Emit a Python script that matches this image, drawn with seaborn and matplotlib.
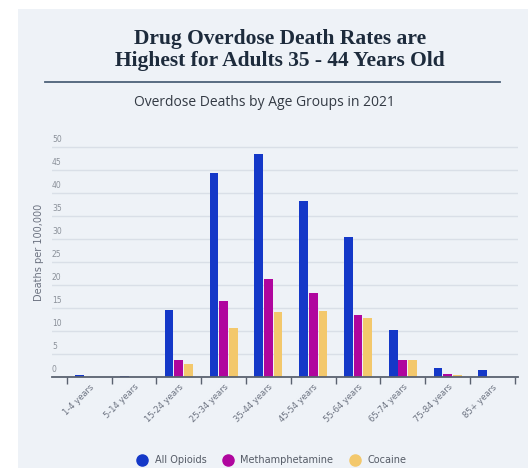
import pandas as pd
import seaborn as sns
import matplotlib.pyplot as plt
import matplotlib.transforms as mtrans
from matplotlib.lines import Line2D
from matplotlib.patches import Rectangle
from matplotlib.ticker import FixedLocator

# Overdose deaths per 100,000 by age group, 2021
ages = ["1-4 years", "5-14 years", "15-24 years", "25-34 years", "35-44 years",
        "45-54 years", "55-64 years", "65-74 years", "75-84 years", "85+ years"]
opioids = [0.5, 0.3, 14.6, 44.4, 48.5, 38.3, 30.5, 10.2, 2.0, 1.5]
meth = [0.0, 0.0, 3.7, 16.6, 21.4, 18.2, 13.4, 3.8, 0.7, 0.0]
cocaine = [0.0, 0.0, 2.8, 10.6, 14.2, 14.3, 12.8, 3.8, 0.5, 0.0]
drugs = ["All Opioids", "Methamphetamine", "Cocaine"]
colors = ["#1438c8", "#b0069e", "#f3c86c"]
yticks = [0, 5, 10, 15, 20, 25, 30, 35, 40, 45, 50]

df = pd.DataFrame({"age": ages * 3,
                   "rate": opioids + meth + cocaine,
                   "drug": [d for d in drugs for _ in ages]})

panel = "#eef2f7"
fig = plt.figure(figsize=(5.28, 4.68), dpi=100)
fig.patch.set_facecolor("white")
fig.patches.append(Rectangle((18 / 528, 0), 1 - 18 / 528, 1 - 9 / 468,
                             transform=fig.transFigure, facecolor=panel,
                             edgecolor="none", zorder=-10))

ax = fig.add_axes([52 / 528, 0.1944, 466 / 528, 0.5013])
ax.set_facecolor(panel)

sns.barplot(data=df, x="age", y="rate", hue="drug", palette=colors,
            saturation=1, width=0.65, gap=0.1, ax=ax, legend=False, zorder=3)

ax.set_ylim(0, 51)
ax.set_xlim(-0.83, 9.57)
ax.set_yticks(yticks)
ax.grid(axis="y", color="#d9dfe7", linewidth=1, zorder=0)
ax.grid(axis="x", visible=False)
for s in ["top", "right", "left"]:
    ax.spines[s].set_visible(False)
ax.spines["bottom"].set_color("#5a6270")
ax.spines["bottom"].set_linewidth(1.3)
ax.spines["bottom"].set_zorder(5)

# y tick labels sit just above each gridline, inside the plot
ax.tick_params(axis="y", length=0, pad=0, labelsize=5.5, labelcolor="#8a9099")
off = mtrans.ScaledTranslation(0, 2 / 72, fig.dpi_scale_trans)
for lab in ax.get_yticklabels():
    lab.set_horizontalalignment("left")
    lab.set_verticalalignment("bottom")
    lab.set_transform(lab.get_transform() + off)

# category boundary ticks on x
ax.xaxis.set_minor_locator(FixedLocator([i - 0.5 for i in range(len(ages) + 1)]))
ax.tick_params(axis="x", which="minor", length=5, width=1, color="#5a6270")
ax.tick_params(axis="x", which="major", length=0, pad=4, labelsize=6, labelcolor="#6b7280")
ax.set_xticks(range(len(ages)))
ax.set_xticklabels(ages, rotation=45, ha="right", rotation_mode="anchor")

ax.set_xlabel("")
ax.set_ylabel("Deaths per 100,000", fontsize=7, color="#6b7280")
ax.yaxis.set_label_coords(-0.018, 0.53)

fig.text(0.53, 0.893, "Drug Overdose Death Rates are\nHighest for Adults 35 - 44 Years Old",
         ha="center", va="center", fontsize=15.5, fontweight="bold",
         family="Liberation Serif", color="#1d2b3c", linespacing=1.15)
fig.add_artist(Line2D([45 / 528, 500 / 528], [1 - 82 / 468] * 2,
                      transform=fig.transFigure, color="#4d6178", linewidth=1.3))
fig.text(0.5, 1 - 102 / 468, "Overdose Deaths by Age Groups in 2021",
         ha="center", va="center", fontsize=10, family="Open Sans", color="#333a44")

handles = [Line2D([], [], marker="o", linestyle="none", markersize=8,
                  markerfacecolor=c, markeredgecolor=c) for c in colors]
fig.legend(handles, drugs, loc="center", bbox_to_anchor=(0.51, 1 - 460 / 468),
           ncol=3, frameon=False, fontsize=7, labelcolor="#555b66",
           handletextpad=0.3, columnspacing=1.2)

fig.savefig("out.png", dpi=100, facecolor=fig.get_facecolor())
